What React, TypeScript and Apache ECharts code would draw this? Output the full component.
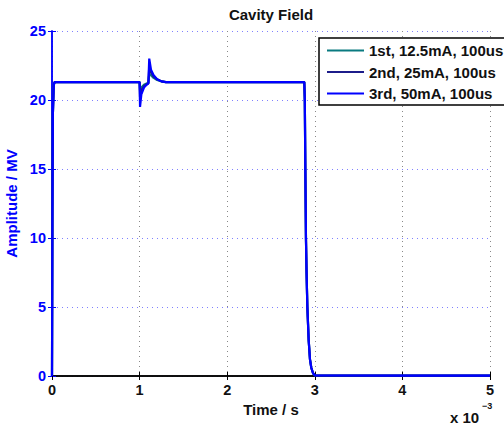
import React, { useEffect, useRef } from "react";
import * as echarts from "echarts";

// Time samples (s)
const time = [
  0, 0.000005, 0.00001, 0.00002, 0.00003,
  0.00099, 0.001, 0.001005, 0.00102, 0.00105, 0.00108, 0.0011, 0.00111,
  0.00113, 0.00116, 0.0012, 0.00125, 0.0013,
  0.00288, 0.002886, 0.002892, 0.002899, 0.002906, 0.002915, 0.00293,
  0.002945, 0.00296, 0.00298, 0.003, 0.004, 0.005,
];

// Amplitude (MV) per run
const run1 = [
  0, 12, 19, 21.1, 21.3,
  21.3, 21.3, 20.7, 20.9, 21.1, 21.2, 21.25, 21.9,
  21.8, 21.6, 21.45, 21.35, 21.3,
  21.3, 20, 15, 10, 7.5, 5, 2.6,
  1.2, 0.6, 0.2, 0.05, 0.03, 0.03,
];
const run2 = [
  0, 12, 19, 21.1, 21.3,
  21.3, 21.3, 20.2, 20.7, 21.0, 21.15, 21.2, 22.4,
  22.0, 21.7, 21.5, 21.35, 21.3,
  21.3, 20, 15, 10, 7.5, 5, 2.6,
  1.2, 0.6, 0.2, 0.05, 0.03, 0.03,
];
const run3 = [
  0, 12, 19, 21.1, 21.3,
  21.3, 21.3, 19.5, 20.4, 20.9, 21.1, 21.2, 23.0,
  22.2, 21.8, 21.5, 21.35, 21.3,
  21.3, 20, 15, 10, 7.5, 5, 2.6,
  1.2, 0.6, 0.2, 0.05, 0.03, 0.03,
];

const seriesNames = ["1st, 12.5mA, 100us", "2nd, 25mA, 100us", "3rd, 50mA, 100us"];
const seriesColors = ["#0a7a80", "#1c1c8a", "#0000ff"];
const xTicks = [0, 1, 2, 3, 4, 5];
const yTicks = [0, 5, 10, 15, 20, 25];

const FONT = "'Liberation Sans', Arial, Helvetica, sans-serif";

export default function App() {
  const ref = useRef<HTMLDivElement>(null);
  useEffect(() => {
    document.body.style.margin = "0";
    if (!ref.current) return;
    const chart = echarts.init(ref.current, null, { renderer: "svg" });
    const runs = [run1, run2, run3];
    const xMin = xTicks[0] * 1e-3;
    const xMax = xTicks[xTicks.length - 1] * 1e-3;
    const xInt = (xTicks[1] - xTicks[0]) * 1e-3;
    const yMin = yTicks[0];
    const yMax = yTicks[yTicks.length - 1];
    const yInt = yTicks[1] - yTicks[0];
    const grid = { left: 52, right: 14, top: 31, bottom: 49, containLabel: false, outerBoundsMode: "none" };
    chart.setOption({
      animation: false,
      backgroundColor: "#fff",
      grid,
      legend: {
        orient: "vertical",
        left: 319,
        top: 38,
        data: seriesNames.map((n) => ({ name: n, icon: "rect" })),
        itemWidth: 37,
        itemHeight: 2,
        itemGap: 4.5,
        padding: [4, 30, 3, 8],
        backgroundColor: "#fff",
        borderColor: "#000",
        borderWidth: 1.5,
        textStyle: { fontFamily: FONT, fontWeight: "bold", fontSize: 15, color: "#111", lineHeight: 17 },
      },
      xAxis: [
        {
          type: "value",
          min: xMin,
          max: xMax,
          interval: xInt,
          position: "bottom",
          name: "Time / s",
          nameLocation: "middle",
          nameGap: 25,
          nameTextStyle: { fontFamily: FONT, fontWeight: "bold", fontSize: 15, color: "#111" },
          axisLine: { lineStyle: { color: "#000", width: 1.5 } },
          axisTick: { inside: true, length: 4, lineStyle: { color: "#000" } },
          axisLabel: {
            fontFamily: FONT,
            fontWeight: "bold",
            fontSize: 14.5,
            color: "#111",
            margin: 6,
            formatter: (v: number) => String(Math.round(v * 1000)),
          },
          splitLine: { show: true, lineStyle: { color: "#888", type: [1, 4], width: 1 } },
        },
        {
          type: "value",
          min: xMin,
          max: xMax,
          interval: xInt,
          position: "top",
          axisLine: { lineStyle: { color: "#000", width: 1.5 } },
          axisTick: { inside: true, length: 4, lineStyle: { color: "#000" } },
          axisLabel: { show: false },
          splitLine: { show: false },
        },
      ],
      yAxis: [
        {
          type: "value",
          min: yMin,
          max: yMax,
          interval: yInt,
          position: "left",
          name: "Amplitude / MV",
          nameLocation: "middle",
          nameGap: 25,
          nameTextStyle: { fontFamily: FONT, fontWeight: "bold", fontSize: 15, color: "#0000ff" },
          axisLine: { show: true, lineStyle: { color: "#0000ff", width: 1.5 } },
          axisTick: { show: true, inside: true, length: 4, lineStyle: { color: "#0000ff" } },
          axisLabel: { fontFamily: FONT, fontWeight: "bold", fontSize: 14.5, color: "#0000ff", margin: 6 },
          splitLine: { show: true, lineStyle: { color: "#8080ff", type: [1, 4], width: 1 } },
        },
        {
          type: "value",
          min: yMin,
          max: yMax,
          interval: yInt,
          position: "right",
          axisLine: { show: true, lineStyle: { color: "#0000ff", width: 1.5 } },
          axisTick: { show: true, inside: true, length: 4, lineStyle: { color: "#0000ff" } },
          axisLabel: { show: false },
          splitLine: { show: false },
        },
      ],
      series: runs.map((vals, i) => ({
        name: seriesNames[i],
        type: "line",
        xAxisIndex: 0,
        yAxisIndex: 0,
        symbol: "none",
        color: seriesColors[i],
        lineStyle: { color: seriesColors[i], width: 2.2 },
        data: time.map((t, j) => [t, vals[j]]),
      })),
      graphic: [
        {
          type: "text",
          x: 271,
          y: 14,
          style: {
            text: "Cavity Field",
            align: "center",
            verticalAlign: "middle",
            font: `bold 15px ${FONT}`,
            fill: "#111",
          },
        },
        {
          type: "text",
          x: 450,
          y: 417,
          style: {
            text: "x 10",
            align: "left",
            verticalAlign: "middle",
            font: `bold 15px ${FONT}`,
            fill: "#111",
          },
        },
        {
          type: "text",
          x: 482,
          y: 406,
          style: {
            text: "−3",
            align: "left",
            verticalAlign: "middle",
            font: `bold 9px ${FONT}`,
            fill: "#111",
          },
        },
      ],
    });
    return () => chart.dispose();
  }, []);
  return <div ref={ref} style={{ width: 504, height: 425 }} />;
}
